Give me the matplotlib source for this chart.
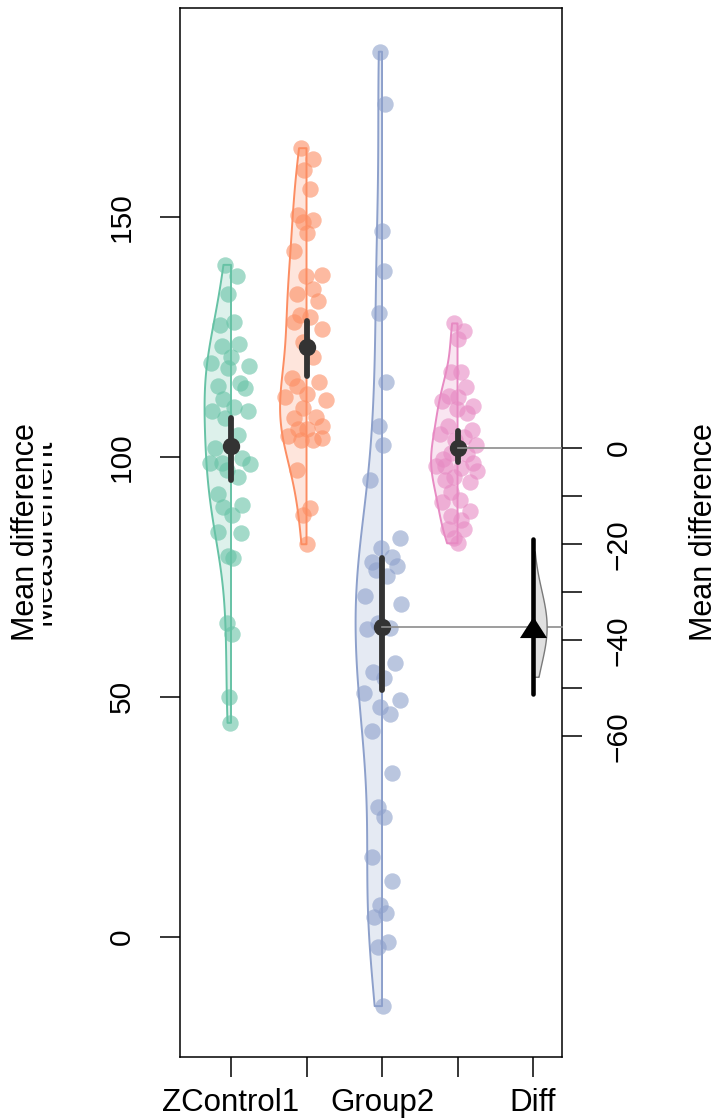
import matplotlib
matplotlib.use("Agg")
import matplotlib.pyplot as plt
import numpy as np
from matplotlib.transforms import Bbox, TransformedBbox

plt.rcParams["font.family"] = ["Liberation Sans", "DejaVu Sans"]

# ---- data ----
tick_labels = ["ZControl1", "", "Group2", "", "Diff"]
group_colors = ["#66C2A5", "#FC8D62", "#8DA0CB", "#E78AC3"]

control_vals = [140.0, 137.7, 134.0, 127.5, 128.0, 123.0, 123.5, 119.6, 120.8, 118.5,
                119.0, 114.8, 115.4, 114.4, 112.0, 109.6, 110.4, 109.6, 108.0, 104.6,
                101.9, 98.8, 98.8, 99.8, 98.5, 97.3, 95.8, 92.3, 89.6, 90.0,
                87.9, 84.4, 84.2, 79.4, 79.0, 65.4, 63.1, 50.0, 44.6]
control_jit = [-0.08, 0.08, -0.04, -0.15, 0.04, -0.12, 0.11, -0.26, 0.0, -0.04,
               0.24, -0.17, 0.12, 0.19, -0.11, -0.25, 0.04, 0.23, -0.08, 0.09,
               -0.21, -0.28, -0.12, 0.15, 0.25, -0.05, 0.09, -0.17, -0.11, 0.15,
               0.01, -0.17, 0.13, -0.04, 0.03, -0.05, 0.01, -0.03, -0.01]

group1_vals = [164.3, 162.0, 159.8, 155.8, 150.4, 149.4, 148.9, 146.6, 142.8, 137.6,
               137.9, 135.0, 133.9, 132.4, 129.6, 129.2, 128.2, 126.7, 124.0, 120.9,
               116.5, 114.8, 115.5, 112.4, 113.0, 111.9, 110.1, 108.2, 108.4, 105.8,
               105.8, 106.5, 104.4, 103.5, 103.5, 104.0, 97.3, 89.4, 87.9, 81.8]
group1_jit = [-0.07, 0.09, -0.03, 0.04, -0.11, 0.09, -0.05, 0.01, -0.17, -0.01,
              0.2, 0.09, -0.12, 0.15, -0.08, 0.04, -0.17, 0.2, -0.05, 0.09,
              -0.19, -0.12, 0.16, -0.28, 0.01, 0.26, -0.04, -0.17, 0.12, -0.11,
              0.01, 0.2, -0.24, -0.07, 0.08, 0.21, -0.13, 0.05, -0.04, 0.01]

group2_vals = [184.4, 173.5, 147.1, 138.8, 129.9, 115.7, 106.5, 102.5, 95.2, 83.1,
               81.0, 79.2, 78.2, 77.2, 76.5, 75.1, 71.1, 69.4, 65.5, 64.3,
               64.1, 57.1, 55.1, 53.9, 50.9, 49.4, 47.8, 46.5, 43.0, 34.1,
               27.0, 24.9, 16.6, 11.7, 6.7, 4.2, 5.0, -2.0, -1.0, -14.4]
group2_jit = [-0.03, 0.04, 0.0, 0.03, -0.04, 0.05, -0.04, 0.01, -0.16, 0.24,
              -0.01, 0.13, -0.13, 0.2, -0.08, 0.07, -0.23, 0.25, -0.05, 0.11,
              -0.2, 0.17, -0.12, 0.03, -0.24, 0.24, -0.03, 0.11, -0.13, 0.13,
              -0.05, 0.03, -0.13, 0.13, -0.03, -0.11, 0.05, -0.05, 0.08, 0.01]

group3_vals = [127.8, 126.3, 124.5, 117.6, 117.6, 114.5, 112.7, 112.4, 111.7, 110.6,
               109.9, 109.2, 106.5, 105.5, 104.8, 104.2, 103.5, 102.5, 100.8, 100.6,
               99.5, 98.8, 98.0, 98.0, 97.6, 97.1, 95.9, 94.8, 95.2, 92.6,
               90.7, 91.0, 88.8, 87.6, 86.9, 84.9, 84.9, 83.1, 82.0]
group3_jit = [-0.05, 0.08, 0.0, -0.09, 0.04, 0.11, -0.11, 0.0, -0.2, 0.21,
              -0.01, 0.12, -0.13, 0.19, -0.23, 0.08, -0.04, 0.24, -0.08, 0.13,
              -0.19, 0.21, -0.28, -0.16, 0.04, 0.26, -0.05, 0.17, -0.17, -0.08,
              -0.2, 0.03, 0.16, -0.08, 0.04, 0.08, -0.12, -0.05, 0.0]

group_means = [102.3, 122.8, 64.6, 101.8]
group_ci_low = [95.2, 116.9, 51.5, 98.9]
group_ci_high = [108.1, 128.4, 79.0, 105.4]

diff_ci = [-51.2, -18.8]
diff_violin_range = [-47.6, -21.5]
right_ticks = [0, -10, -20, -30, -40, -50, -60]
right_tick_labels = ["0", "", "\u221220", "", "\u221240", "", "\u221260"]

all_vals = [control_vals, group1_vals, group2_vals, group3_vals]
all_jit = [control_jit, group1_jit, group2_jit, group3_jit]

# ---- figure ----
fig = plt.figure(figsize=(7.2, 11.18), dpi=100)
ax = fig.add_axes([0.25, 0.05456, 0.5306, 0.93828])
ax.set_xlim(0.3245, 5.384)
ax.set_ylim(-25.0, 193.5)

violin_w = 0.35
for i, (vals, jit, col) in enumerate(zip(all_vals, all_jit, group_colors)):
    xc = i + 1
    v = np.asarray(vals)
    iqr = np.subtract(*np.percentile(v, [75, 25]))
    bw = 0.9 * min(v.std(ddof=1), iqr / 1.34) * len(v) ** -0.2
    grid = np.linspace(v.min(), v.max(), 300)
    dens = np.exp(-0.5 * ((grid[:, None] - v[None, :]) / bw) ** 2).sum(axis=1)
    dens = dens / dens.max() * violin_w
    ax.fill_betweenx(grid, xc - dens, xc, facecolor=col, alpha=0.22, lw=0, zorder=1)
    ax.fill_betweenx(grid, xc - dens, xc, facecolor="none", edgecolor=col, lw=1.4, zorder=2)
    ax.plot(xc + np.asarray(jit), v, "o", ms=11.8, color=col, alpha=0.6, mec="none", zorder=3)
    ax.plot([xc, xc], [group_ci_low[i], group_ci_high[i]], color="#333333", lw=4.2,
            solid_capstyle="round", zorder=4)
    ax.plot(xc, group_means[i], "o", ms=12.5, color="#333333", mec="none", zorder=5)

# lines from the two compared means to the right axis
x_right = ax.get_xlim()[1]
for gi in (2, 3):
    ax.plot([gi + 1, x_right], [group_means[gi]] * 2, color="#8c8c8c", lw=1.2,
            zorder=6, clip_on=False)

ax.set_xticks(range(1, 6))
ax.set_xticklabels(tick_labels)
ax.set_yticks([0, 50, 100, 150])
ax.tick_params(axis="both", length=14.5, width=1.1)
ax.tick_params(axis="x", pad=8, labelsize=22.5)
ax.tick_params(axis="y", pad=17, labelsize=21.5)
for lab in ax.get_yticklabels():
    lab.set_rotation(90)
    lab.set_va("center")
for s in ax.spines.values():
    s.set_linewidth(1.1)

# ---- difference axis ----
ref = group_means[3]
diff = group_means[2] - group_means[3]
ax2 = ax.twinx()
ax2.set_ylim(ax.get_ylim()[0] - ref, ax.get_ylim()[1] - ref)
for s in ax2.spines.values():
    s.set_visible(False)
ax2.set_yticks(right_ticks)
ax2.set_yticklabels(right_tick_labels)
ax2.tick_params(axis="y", length=14.5, width=1.1, labelsize=21.5, pad=16)
for lab in ax2.get_yticklabels():
    lab.set_rotation(90)
    lab.set_va("center")

se = np.sqrt(np.var(group2_vals, ddof=1) / len(group2_vals)
             + np.var(group3_vals, ddof=1) / len(group3_vals))
dgrid = np.linspace(diff_violin_range[0], diff_violin_range[1], 200)
ddens = np.exp(-0.5 * ((dgrid - diff) / se) ** 2)
ddens = ddens / ddens.max() * 0.18
ax2.fill_betweenx(dgrid, 5, 5 + ddens, facecolor="#e0e0e0", edgecolor="#7a7a7a", lw=1.0)
ax2.plot([5, 5], diff_ci, color="black", lw=3.3, solid_capstyle="round")
tri = [(-1, -0.78), (1, -0.78), (0, 0.78)]
ax2.plot(5, diff, marker=tri, ms=19.5, color="black", mec="none")

# ---- axis titles ----
yc = 1 - 532 / 1118
meas = fig.text(51 / 720, yc, "Measurement", rotation=90, rotation_mode="anchor",
                ha="center", va="baseline", fontsize=22)
meas.set_clip_box(TransformedBbox(Bbox([[43 / 720, 0], [1, 1]]), fig.transFigure))
meas.set_clip_on(True)
fig.text(34 / 720, yc, "Mean difference", rotation=90, rotation_mode="anchor",
         ha="center", va="baseline", fontsize=22)
fig.text(712 / 720, yc, "Mean difference", rotation=90, rotation_mode="anchor",
         ha="center", va="baseline", fontsize=22)

fig.savefig("out.png", dpi=100)
